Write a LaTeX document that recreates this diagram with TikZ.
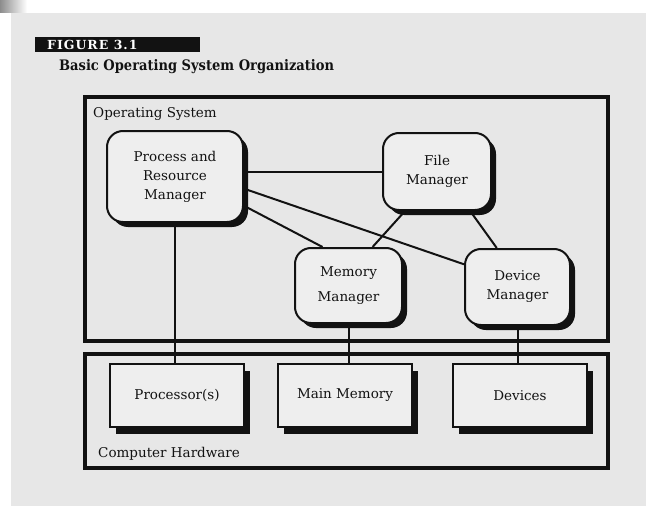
\documentclass[tikz,border=0pt]{standalone}
\usepackage{fontspec}
\setmainfont{DejaVu Serif}
\newfontfamily\capfont[LetterSpace=8]{DejaVu Serif}
\usetikzlibrary{shadows}
\definecolor{scanpage}{HTML}{E7E7E7}
\definecolor{scanbox}{HTML}{EEEEEE}
\definecolor{scanink}{HTML}{121212}
\tikzset{
  frm/.style={draw=scanink, line width=4pt, inner sep=0pt, minimum width=523pt},
  mgr/.style={draw=scanink, line width=2pt, fill=scanbox, rounded corners=16pt, align=center, inner sep=0pt,
    drop shadow={shadow xshift=5pt, shadow yshift=-5pt, fill=scanink, opacity=1}},
  hw/.style={draw=scanink, line width=1.8pt, fill=scanbox, inner sep=0pt, minimum width=134pt, minimum height=63pt,
    drop shadow={shadow xshift=6pt, shadow yshift=-7pt, fill=scanink, opacity=1}},
  lnk/.style={draw=scanink, line width=2pt},
  lbl/.style={anchor=base west, inner sep=0pt},
}

\begin{document}
\begin{tikzpicture}[x=1pt, y=-1pt, font=\fontsize{13.5}{19}\selectfont, color=scanink]
  \useasboundingbox (0,0) rectangle (646,506);
  \fill[white] (0,0) rectangle (646,506);
  \shade[left color=black!45, right color=white] (0,0) rectangle (27,12);
  \fill[scanpage] (11,13) rectangle (646,506);

  \node[fill=scanink, minimum width=165pt, minimum height=15pt, inner sep=0pt] (figbar) at (117.5,44.5) {};
  \node[anchor=west, inner sep=0pt, text=white, font=\capfont\bfseries\fontsize{12.5}{14}\selectfont] (fignum) at (47,45) {FIGURE 3.1};
  \node[anchor=west, inner sep=0pt, font=\bfseries\fontsize{14.5}{16}\selectfont] (figttl) at (59,67) {\scalebox{0.9}[1]{Basic Operating System Organization}};

  \node[frm, minimum height=244pt] (os) at (346.5,219) {};
  \node[lbl] (oslbl) at (93,117) {Operating System};
  \node[frm, minimum height=114pt] (cpu) at (346.5,411) {};
  \node[lbl] (cpulbl) at (98,457.5) {Computer Hardware};

  \node[mgr, minimum width=136pt, minimum height=91pt] (prm) at (175,176.5) {Process and\\Resource\\Manager};
  \node[mgr, minimum width=108pt, minimum height=77pt] (fm) at (437,171.5) {File\\Manager};
  \node[mgr, minimum width=107pt, minimum height=75pt] (mm) at (348.5,285.5) {Memory\\[6pt]Manager};
  \node[mgr, minimum width=105pt, minimum height=76pt] (dm) at (517.5,287) {Device\\Manager};

  \foreach \nm/\cx/\txt in {proc/177/Processor(s), mem/345/Main Memory, dev/520/Devices}
    \node[hw] (\nm) at (\cx,395.5) {\txt};

  \draw[lnk] (fm.west) -- (fm.west -| prm.east);
  \draw[lnk] (prm.-10) -- (dm.157);
  \draw[lnk] (prm.-23) -- (mm.124);
  \draw[lnk] (fm.231) -- (mm.58);
  \draw[lnk] (fm.-50) -- (dm.118);
  \foreach \a/\b in {prm/proc, mm/mem, dm/dev}
    \draw[lnk] (\a.south) -- (\a.south |- \b.north);
\end{tikzpicture}
\end{document}
